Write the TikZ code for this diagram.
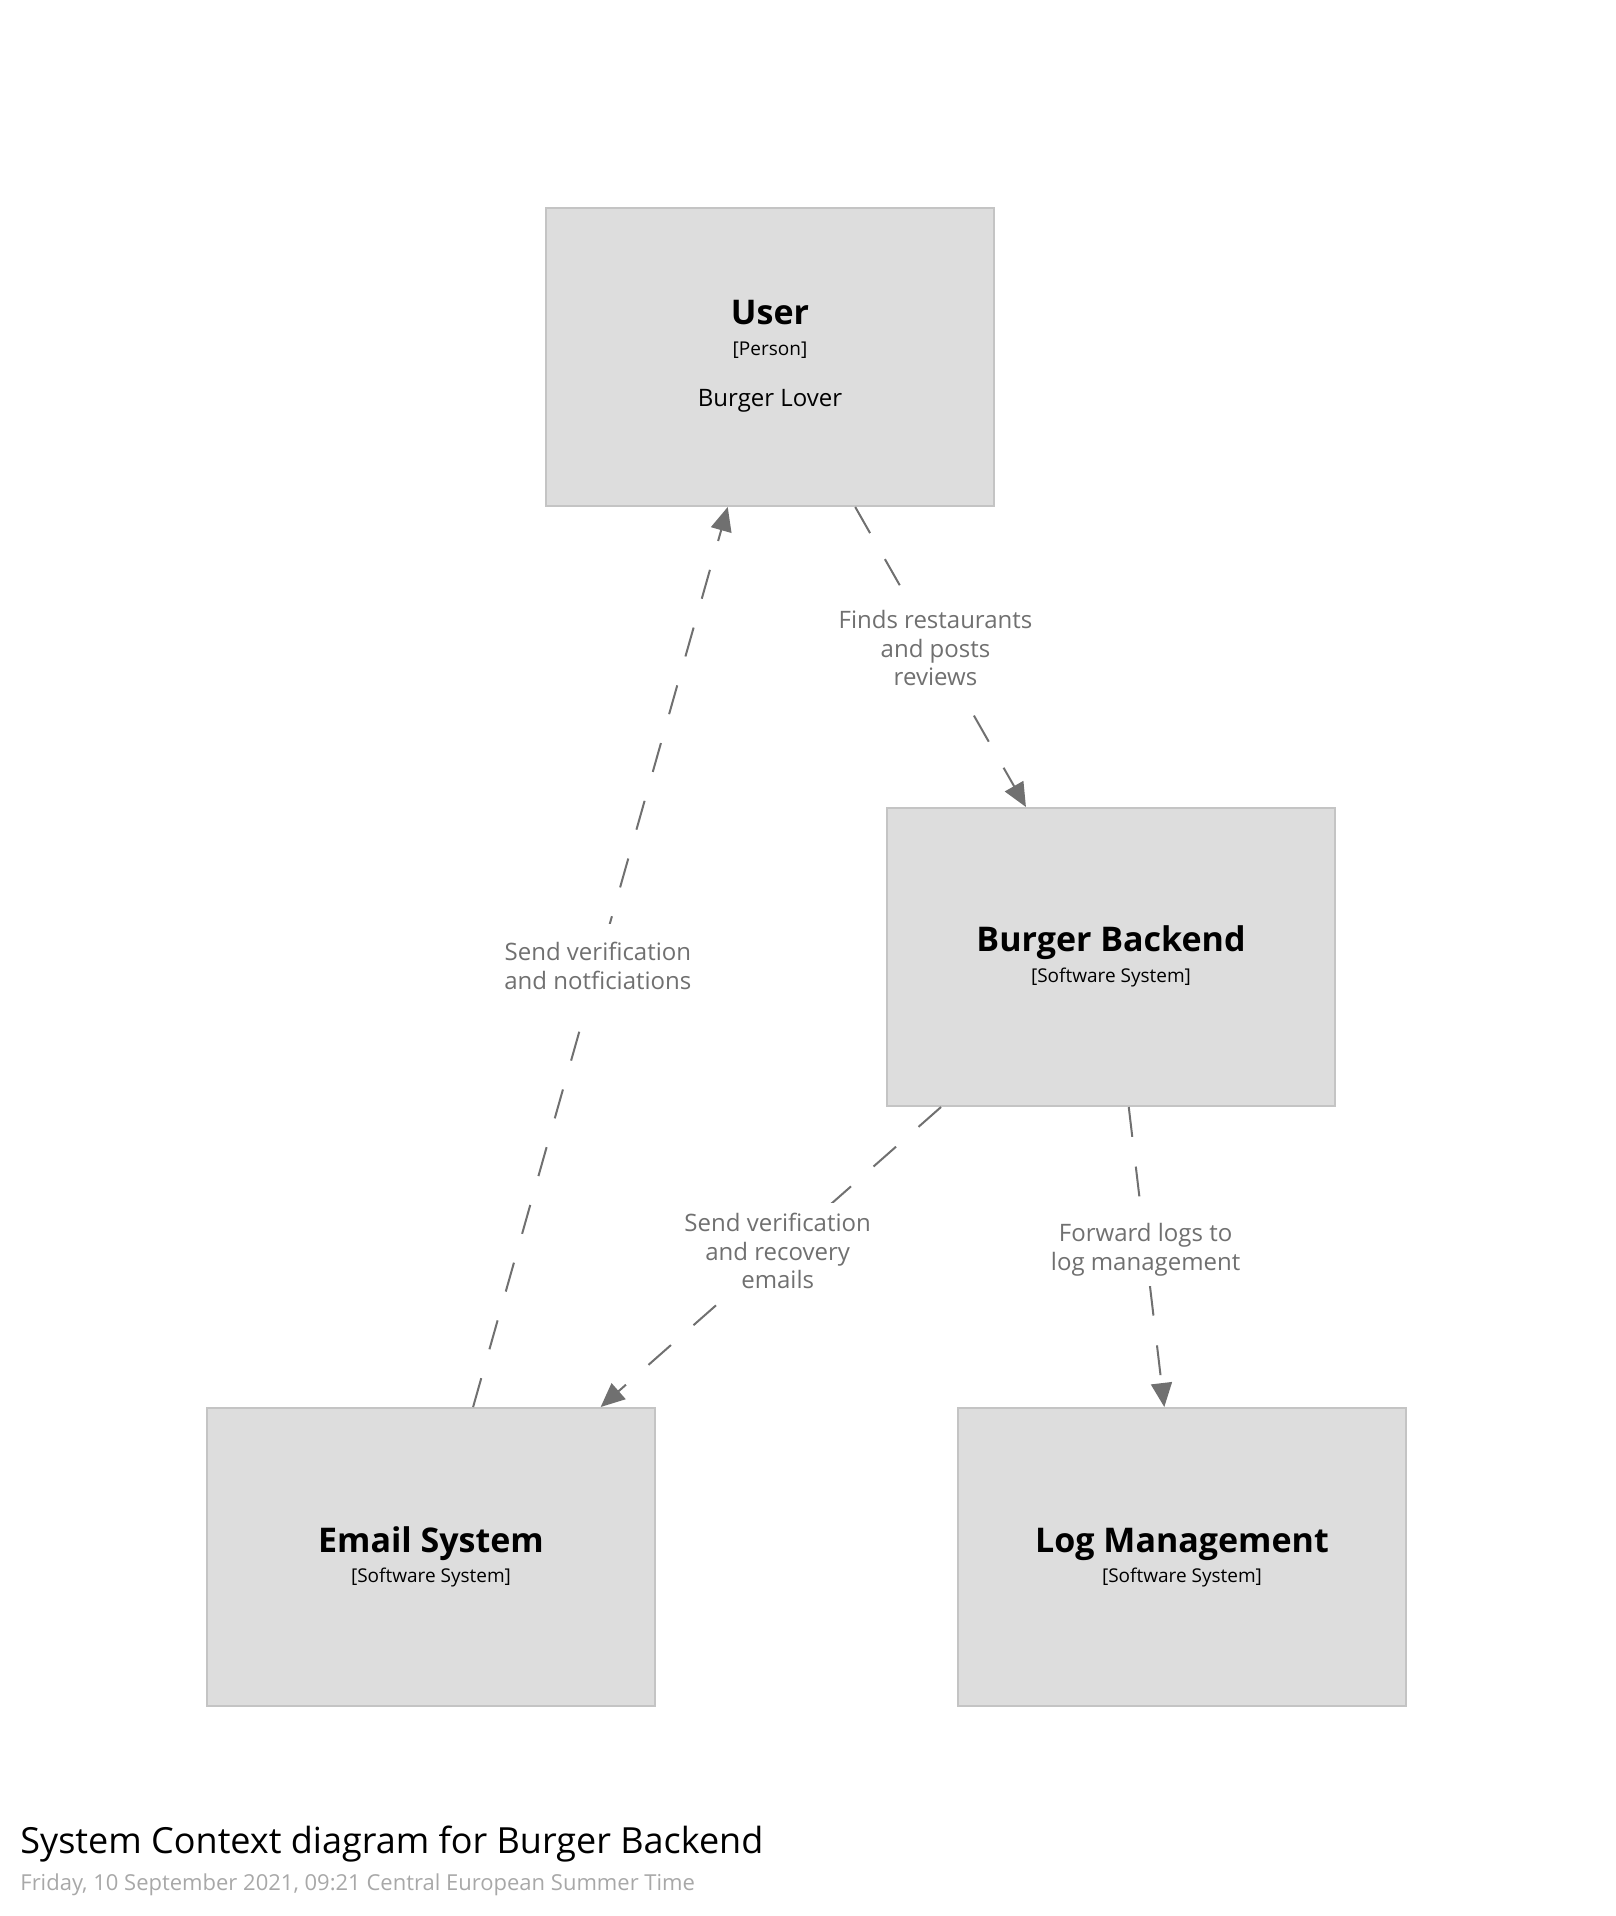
\documentclass[tikz,border=0pt]{standalone}
\usepackage{fontspec}
\setmainfont{Open Sans}
\usetikzlibrary{arrows.meta}
\definecolor{boxfill}{HTML}{DDDDDD}
\definecolor{boxline}{HTML}{C4C4C4}
\definecolor{relgrey}{HTML}{707070}
\definecolor{dategrey}{HTML}{A8A8A8}

\begin{document}
\begin{tikzpicture}[x=0.5pt,y=-0.5pt,
    elem/.style={draw=boxline,line width=1pt,fill=boxfill,minimum width=224pt,minimum height=149pt,inner sep=0pt},
    elemname/.style={anchor=base,inner sep=0pt,font=\fontsize{17}{20}\selectfont\bfseries},
    elemmeta/.style={anchor=base,inner sep=0pt,font=\fontsize{9.5}{11}\selectfont},
    elemdesc/.style={anchor=base,inner sep=0pt,font=\fontsize{12}{14}\selectfont},
    rel/.style={draw=relgrey,line width=1pt,dash pattern=on 15pt off 15pt,-{Triangle[length=12pt,width=10.5pt]}},
    rellabel/.style={fill=white,text=relgrey,align=center,inner sep=5pt,font=\fontsize{12}{14.25}\selectfont}]
	\useasboundingbox (0,0) rectangle (1616,1916);
    % elements
    \node[elem] (user) at (770,357) {};
    \node[elem] (backend) at (1111,957) {};
    \node[elem] (email) at (431,1557) {};
    \node[elem] (logs) at (1182,1557) {};
    \node[elemname] (userName) at (770,324) {User};
    \node[elemmeta] (userType) at (770,355) {[Person]};
    \node[elemdesc] (userDesc) at (770,406) {Burger Lover};
    \node[elemname] (backendName) at (1111,951) {Burger Backend};
    \node[elemmeta] (backendType) at (1111,982) {[Software System]};
    \node[elemname] (emailName) at (431,1552) {Email System};
    \node[elemmeta] (emailType) at (431,1582) {[Software System]};
    \node[elemname] (logsName) at (1182,1552) {Log Management};
    \node[elemmeta] (logsType) at (1182,1582) {[Software System]};
    % relationships
    \draw[rel] (user) -- node[rellabel,pos=0.47] {Finds restaurants\\and posts\\reviews} (backend);
    \draw[rel] (email) -- node[rellabel,pos=0.49,inner ysep=9pt] {Send verification\\and notficiations} (user);
    \draw[rel] (backend) -- node[rellabel,pos=0.48] {Send verification\\and recovery\\emails} (email);
    \draw[rel] (backend) -- node[rellabel,pos=0.475] {Forward logs to\\log management} (logs);
    % title
    \node[anchor=base west,inner sep=0pt,font=\fontsize{18}{22}\selectfont] (title) at (20,1853) {System Context diagram for Burger Backend};
    \node[anchor=base west,inner sep=0pt,text=dategrey,font=\fontsize{11}{13}\selectfont] (date) at (20,1890) {Friday, 10 September 2021, 09:21 Central European Summer Time};
\end{tikzpicture}
\end{document}
